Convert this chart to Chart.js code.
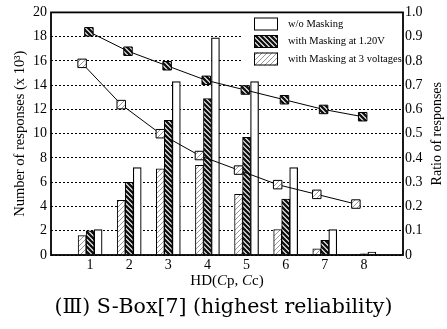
<!DOCTYPE html>
<html>
<head>
<meta charset="utf-8">
<script src="https://cdn.jsdelivr.net/npm/chart.js@4.4.1/dist/chart.umd.min.js"></script>
<style>
  html, body { margin: 0; padding: 0; background: #fff; }
  #wrap { width: 447px; height: 329px; }
</style>
</head>
<body>
<div id="wrap"><canvas id="chart" width="447" height="329"></canvas></div>
<script>
// DATA
const hdLabels   = ['', '1', '2', '3', '4', '5', '6', '7', '8', ''];
const woMasking  = [null, 2.1, 7.2, 14.3, 17.9, 14.3, 7.2, 2.1, 0.25, null];
const mask120V   = [null, 2.0, 6.0, 11.1, 12.9, 9.7, 4.6, 1.2, 0.1, null];
const mask3Volt  = [null, 1.6, 4.5, 7.1, 7.4, 5.0, 2.1, 0.5, 0.05, null];
const ratio120V  = [null, 0.92, 0.84, 0.78, 0.72, 0.68, 0.64, 0.60, 0.57, null];
const ratio3Volt = [null, 0.79, 0.62, 0.50, 0.41, 0.35, 0.29, 0.25, 0.21, null];
const legendNames = ['w/o Masking', 'with Masking at 1.20V', 'with Masking at 3 voltages'];
const captionText = '(\u2162) S-Box[7] (highest reliability)';

const SERIF = '"Liberation Serif", "Times New Roman", serif';
const BAR_W = 8;                  // px per bar
const SLOT = BAR_W / (352 / 9);   // one bar width in x units

// each HD value is one x unit; bars sit side by side, slot -1 / 0 / +1
function toPoints(values, slot) {
  return values.map((v, i) => v === null ? null : { x: i + slot * SLOT, y: v }).filter(p => p);
}

// hatch patterns
function makeHatch(size, bg, fg, lw, forward) {
  const c = document.createElement('canvas');
  c.width = size; c.height = size;
  const g = c.getContext('2d');
  g.fillStyle = bg;
  g.fillRect(0, 0, size, size);
  g.strokeStyle = fg;
  g.lineWidth = lw;
  g.beginPath();
  if (forward) {
    g.moveTo(-1, size + 1); g.lineTo(size + 1, -1);
    g.moveTo(-1, 1); g.lineTo(1, -1);
    g.moveTo(size - 1, size + 1); g.lineTo(size + 1, size - 1);
  } else {
    g.moveTo(-1, -1); g.lineTo(size + 1, size + 1);
    g.moveTo(size - 1, -1); g.lineTo(size + 1, 1);
    g.moveTo(-1, size - 1); g.lineTo(1, size + 1);
  }
  g.stroke();
  return document.createElement('canvas').getContext('2d').createPattern(c, 'repeat');
}

const darkHatch  = makeHatch(5, '#fff', '#111', 2.4, false);
const lightHatch = makeHatch(5, '#fff', '#999', 1, true);

const frameAndExtras = {
  id: 'frameAndExtras',
  beforeDatasetsDraw(chart) {
    const { ctx, chartArea: a } = chart;
    // legend backdrop covers the grid
    ctx.save();
    ctx.fillStyle = '#fff';
    ctx.fillRect(243, a.top + 1, a.right - 244, 59);
    const fills = ['#fff', darkHatch, lightHatch];
    ctx.font = '10.5px ' + SERIF;
    ctx.textBaseline = 'middle';
    ctx.textAlign = 'left';
    for (let i = 0; i < 3; i++) {
      const y = 17.5 + i * 17.5;
      ctx.fillStyle = fills[i];
      ctx.fillRect(254, y, 24, 13);
      ctx.strokeStyle = '#000';
      ctx.lineWidth = 1;
      ctx.strokeRect(254.5, y + 0.5, 23, 12);
      ctx.fillStyle = '#000';
      ctx.fillText(legendNames[i], 288, y + 6.5);
    }
    ctx.restore();
  },
  afterDraw(chart) {
    const { ctx, chartArea: a } = chart;
    ctx.save();
    ctx.strokeStyle = '#000';
    ctx.lineWidth = 1.8;
    ctx.strokeRect(a.left, a.top, a.right - a.left, a.bottom - a.top);

    // x title with italic C
    const parts = [['HD(', ''], ['C', 'italic '], ['p, ', ''], ['C', 'italic '], ['c)', '']];
    let total = 0;
    parts.forEach(p => { ctx.font = p[1] + '15px ' + SERIF; total += ctx.measureText(p[0]).width; });
    let x = (a.left + a.right) / 2 - total / 2;
    ctx.fillStyle = '#000';
    ctx.textBaseline = 'middle';
    ctx.textAlign = 'left';
    parts.forEach(p => {
      ctx.font = p[1] + '15px ' + SERIF;
      ctx.fillText(p[0], x, 281);
      x += ctx.measureText(p[0]).width;
    });

    // right title reads bottom to top
    ctx.translate(437, (a.top + a.bottom) / 2);
    ctx.rotate(-Math.PI / 2);
    ctx.font = '14px ' + SERIF;
    ctx.textAlign = 'center';
    ctx.fillText('Ratio of responses', 0, 0);
    ctx.restore();
  }
};

const barStyle = { borderColor: '#000', borderWidth: 1, order: 2, yAxisID: 'y', grouped: false, barThickness: BAR_W };
const lineStyle = { type: 'line', yAxisID: 'y1', order: 0, borderColor: '#000', borderWidth: 1,
                    pointStyle: 'rect', pointRadius: 6, pointBorderColor: '#000', pointBorderWidth: 1 };

const ctx = document.getElementById('chart').getContext('2d');
new Chart(ctx, {
  type: 'bar',
  data: {
    datasets: [
      { ...barStyle, label: legendNames[2], data: toPoints(mask3Volt, -1), backgroundColor: lightHatch },
      { ...barStyle, label: legendNames[1], data: toPoints(mask120V, 0), backgroundColor: darkHatch },
      { ...barStyle, label: legendNames[0], data: toPoints(woMasking, 1), backgroundColor: '#fff', borderWidth: 1.2 },
      { ...lineStyle, label: 'ratio 1.20V', data: toPoints(ratio120V, -0.15), pointBackgroundColor: darkHatch },
      { ...lineStyle, label: 'ratio 3 voltages', data: toPoints(ratio3Volt, -1), pointBackgroundColor: lightHatch }
    ]
  },
  plugins: [frameAndExtras],
  options: {
    responsive: false,
    animation: false,
    devicePixelRatio: 1,
    layout: { padding: { left: 0, right: 0, top: 11, bottom: 0 } },
    scales: {
      x: {
        type: 'linear',
        offset: false,
        min: 0, max: hdLabels.length - 1,
        grid: { display: false, drawTicks: false, offset: false },
        border: { display: false },
        ticks: { stepSize: 1, color: '#000', font: { family: SERIF, size: 14 }, padding: 2, maxRotation: 0, autoSkip: false,
                 callback: v => hdLabels[v] },
        afterFit: s => { s.height = 40.7; }
      },
      y: {
        position: 'left',
        min: 0, max: 20,
        ticks: { stepSize: 2, color: '#000', font: { family: SERIF, size: 14 }, padding: 4 },
        grid: { color: '#000', lineWidth: 1, drawTicks: false },
        border: { display: false, dash: [2, 2] },
        title: { display: true, text: 'Number of responses (x 10\u00B3)', color: '#000',
                 font: { family: SERIF, size: 14.5 }, padding: { top: 11, bottom: 0 } },
        afterFit: s => { s.width = 51; }
      },
      y1: {
        position: 'right',
        min: 0, max: 1,
        ticks: { stepSize: 0.1, color: '#000', font: { family: SERIF, size: 14 }, padding: 2,
                 callback: v => v === 0 ? '0' : v.toFixed(1) },
        grid: { drawOnChartArea: false, drawTicks: false },
        border: { display: false },
        afterFit: s => { s.width = 44; }
      }
    },
    plugins: {
      legend: { display: false },
      tooltip: { enabled: false },
      title: {
        display: true, position: 'bottom', text: captionText, color: '#000',
        font: { family: '"DejaVu Serif", serif', size: 20.5, weight: 'normal' },
        padding: { top: 0, bottom: 8.7 }
      }
    }
  }
});
</script>
</body>
</html>
